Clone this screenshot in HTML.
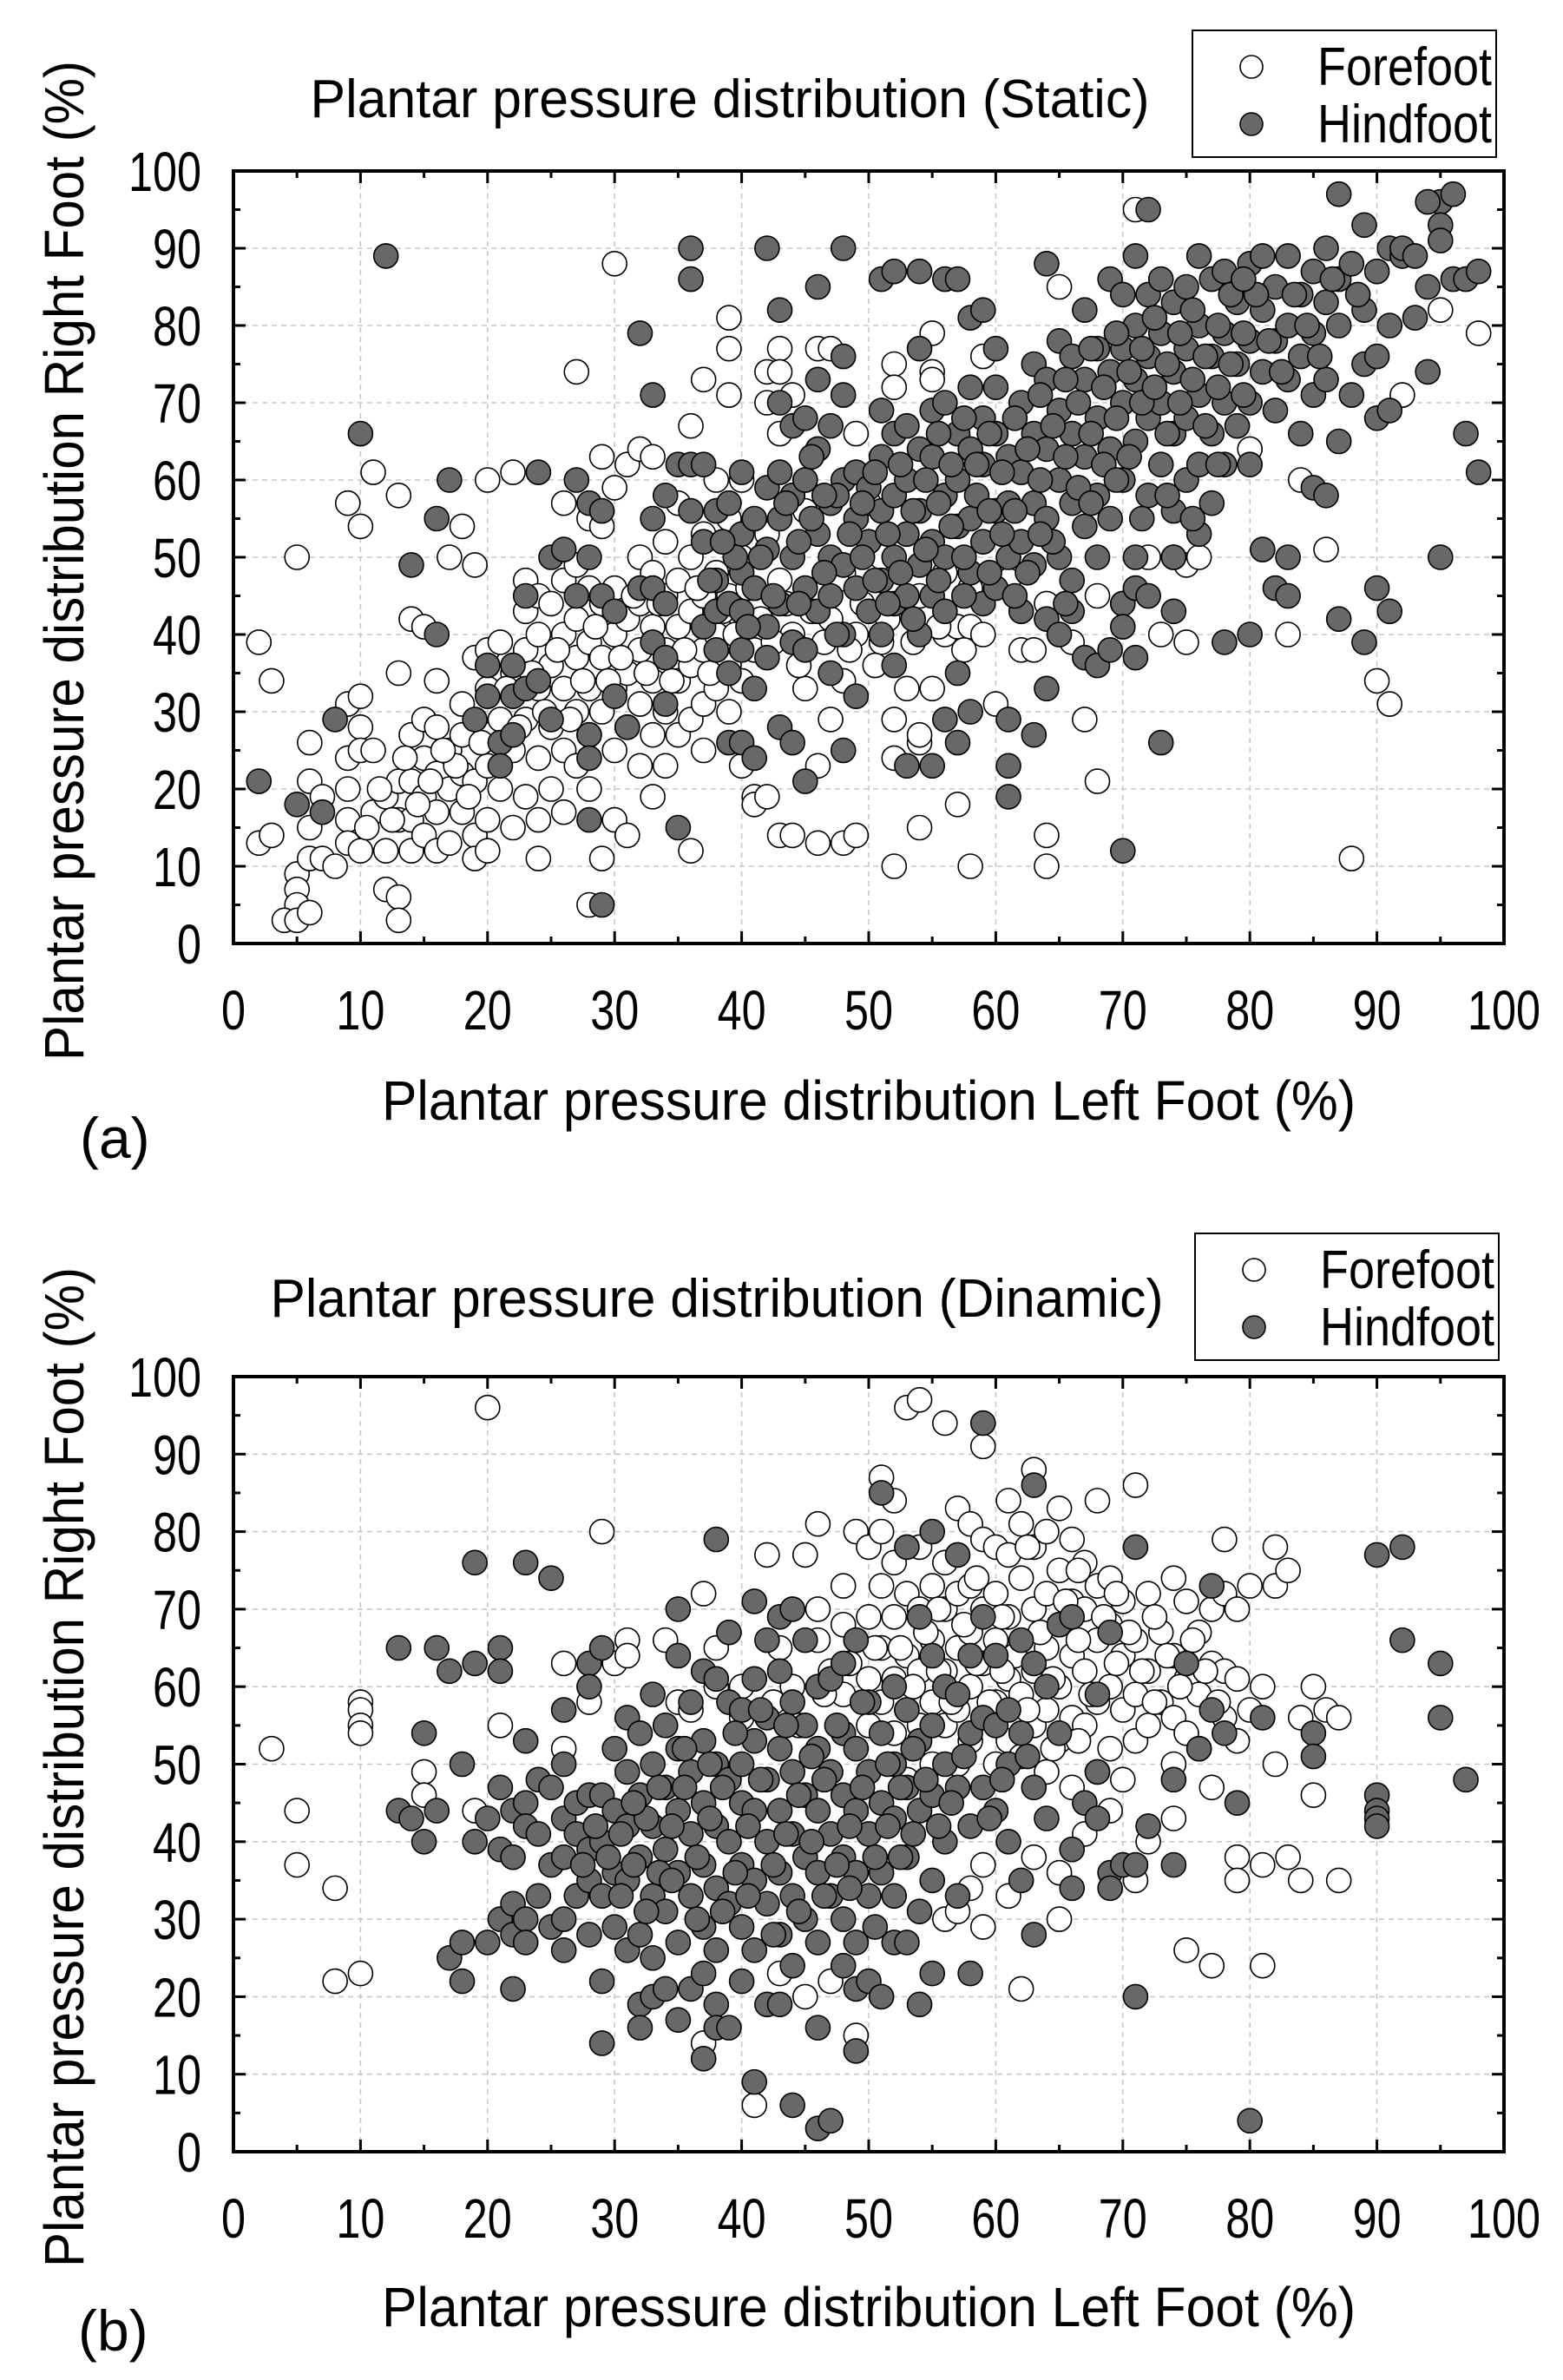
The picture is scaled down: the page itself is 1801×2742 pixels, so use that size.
<!DOCTYPE html>
<html><head><meta charset="utf-8"><title>Plantar pressure distribution</title>
<style>
html,body{margin:0;padding:0;background:#fff;}
svg{display:block;font-family:"Liberation Sans",Arial,sans-serif;}
</style></head>
<body>
<svg id="fig" width="1801" height="2742" viewBox="0 0 1801 2742" xmlns="http://www.w3.org/2000/svg">
<rect width="1801" height="2742" fill="#fff"/>
<g id="chartA"></g>
<g id="chartB"></g>
</svg>
<script>
const xTicks = [0,10,20,30,40,50,60,70,80,90,100];
const yTicks = [0,10,20,30,40,50,60,70,80,90,100];
const staticFore = [[2,39],[2,13],[3,34],[3,14],[5,50],[5,9],[5,7],[5,5],[4,3],[5,3],[6,4],[6,26],[6,21],[6,15],[6,11],[7,11],[7,19],[8,10],[9,31],[9,24],[9,20],[9,16],[9,13],[9,57],[10,54],[10,32],[10,28],[10,25],[10,12],[11,61],[11,25],[11,17],[12,7],[12,19],[12,12],[13,58],[13,35],[13,21],[13,16],[13,6],[13,3],[14,42],[14,27],[14,21],[14,16],[14,12],[15,41],[15,29],[15,24],[15,19],[15,14],[16,34],[16,28],[16,22],[16,17],[16,12],[17,50],[17,25],[17,20],[17,13],[18,54],[18,31],[18,27],[18,22],[18,17],[19,49],[19,37],[19,21],[19,14],[19,11],[20,60],[20,38],[20,33],[20,27],[20,23],[20,16],[20,12],[21,39],[21,29],[21,20],[22,61],[22,35],[22,25],[22,15],[23,47],[23,43],[23,38],[23,29],[23,19],[24,45],[24,40],[24,33],[24,24],[24,11],[24,16],[25,44],[25,36],[25,28],[25,20],[26,57],[26,47],[26,40],[26,33],[26,25],[26,17],[27,74],[27,49],[27,42],[27,37],[27,30],[27,23],[28,55],[28,46],[28,39],[28,33],[28,27],[28,20],[28,5],[29,63],[29,54],[29,44],[29,37],[29,30],[29,11],[30,88],[30,59],[30,46],[30,40],[30,33],[30,25],[30,16],[31,62],[31,42],[31,35],[31,28],[31,14],[32,64],[32,50],[32,44],[32,38],[32,31],[32,23],[33,63],[33,48],[33,41],[33,34],[33,27],[33,19],[34,52],[34,45],[34,38],[34,30],[34,23],[35,57],[35,47],[35,41],[35,34],[35,27],[36,67],[36,50],[36,43],[36,36],[36,29],[36,12],[37,73],[37,53],[37,45],[37,38],[37,31],[37,25],[38,60],[38,48],[38,40],[38,33],[39,81],[39,77],[39,71],[39,55],[39,45],[39,36],[39,30],[40,60],[40,50],[40,42],[40,34],[40,23],[41,19],[41,18],[41,38],[41,46],[42,70],[42,74],[42,19],[42,53],[43,77],[43,74],[43,66],[43,14],[43,47],[44,71],[44,14],[44,40],[44,58],[45,60],[45,33],[45,56],[46,77],[46,13],[46,23],[46,64],[47,77],[47,29],[47,42],[48,13],[48,48],[48,34],[49,66],[49,14],[49,40],[50,57],[50,45],[51,39],[51,50],[52,75],[52,72],[52,29],[52,24],[52,10],[53,33],[53,44],[54,26],[54,27],[54,15],[54,45],[55,79],[55,74],[55,73],[55,33],[56,40],[56,48],[57,18],[57,41],[58,10],[58,41],[58,46],[59,76],[59,40],[60,31],[60,47],[61,47],[62,38],[63,38],[64,14],[64,10],[64,44],[65,85],[65,40],[66,39],[67,29],[68,45],[68,21],[71,95],[72,45],[72,50],[73,40],[75,49],[75,39],[76,50],[80,64],[83,40],[84,60],[86,51],[88,11],[90,34],[91,31],[92,71],[95,82],[98,79],[74,50],[70,44],
[21.5,33],[22.5,28],[23.5,35],[24.5,30],[25.5,38],[26.5,29],[27.5,34],[28.5,41],[29.5,34],[30.5,37],[31.5,45],[32.5,35],[33.5,44],[34.5,34],[35.5,38],[36.5,46],[37.5,35],[38.5,43],[39.5,40],[40.5,46],[41.5,42],[42.5,39],[43.5,44],[44.5,36],[45.5,43],[46.5,39],[47.5,47],[48.5,38],[49.5,44],[50.5,36],[51.5,42],[53.5,39],[55.5,41],[57.5,38],[19.5,26],[18.5,19],[17.5,23],[16.5,25],[15.5,21],[14.5,18],[13.5,24],[12.5,16],[11.5,20],[10.5,15]];
const staticHind = [[2,21],[7,17],[8,29],[5,18],[12,89],[10,66],[14,49],[16,55],[16,40],[17,60],[19,29],[20,32],[20,36],[21,26],[21,23],[22,36],[22,32],[22,27],[23,33],[23,45],[24,34],[24,61],[25,29],[25,50],[26,51],[27,60],[27,45],[28,57],[28,50],[28,27],[28,24],[28,16],[29,56],[29,45],[29,5],[30,43],[30,32],[31,28],[32,46],[32,79],[33,71],[33,55],[33,46],[33,39],[34,58],[34,44],[34,37],[34,31],[35,62],[35,15],[36,90],[36,86],[36,62],[36,56],[37,62],[37,52],[37,41],[38,56],[38,47],[38,43],[38,38],[39,57],[39,44],[39,35],[39,26],[40,61],[40,53],[40,48],[40,43],[40,38],[40,26],[41,55],[41,46],[41,33],[41,24],[42,90],[42,59],[42,51],[42,41],[42,37],[43,82],[43,70],[43,61],[43,55],[43,44],[43,28],[44,67],[44,58],[44,50],[44,39],[44,26],[45,68],[45,60],[45,46],[45,38],[45,21],[46,85],[46,73],[46,64],[46,53],[46,43],[47,67],[47,57],[47,50],[47,45],[47,35],[48,90],[48,76],[48,71],[48,60],[48,49],[48,40],[48,25],[49,61],[49,55],[49,46],[49,32],[50,59],[50,52],[50,43],[51,86],[51,69],[51,63],[51,56],[51,47],[51,40],[52,87],[52,66],[52,58],[52,50],[52,44],[52,36],[53,67],[53,60],[53,53],[53,45],[53,23],[54,87],[54,77],[54,64],[54,56],[54,49],[54,40],[55,69],[55,63],[55,52],[55,45],[55,23],[56,86],[56,70],[56,58],[56,50],[56,43],[56,29],[57,86],[57,66],[57,60],[57,54],[57,35],[57,26],[58,81],[58,72],[58,64],[58,55],[58,48],[58,30],[59,82],[59,68],[59,62],[59,52],[59,44],[60,77],[60,72],[60,66],[60,56],[60,46],[61,63],[61,57],[61,50],[61,29],[61,23],[61,19],[62,70],[62,61],[62,52],[62,43],[63,75],[63,66],[63,57],[63,49],[63,27],[64,88],[64,73],[64,64],[64,55],[64,42],[64,33],[65,78],[65,69],[65,60],[65,50],[65,40],[66,76],[66,66],[66,57],[66,47],[66,43],[67,82],[67,73],[67,63],[67,54],[67,37],[68,77],[68,68],[68,58],[68,50],[68,36],[69,86],[69,74],[69,64],[69,55],[69,38],[70,84],[70,77],[70,70],[70,60],[70,44],[70,41],[70,12],[71,89],[71,80],[71,73],[71,65],[71,50],[71,46],[71,37],[72,95],[72,84],[72,76],[72,68],[72,58],[72,45],[73,86],[73,79],[73,70],[73,62],[73,26],[74,83],[74,74],[74,66],[74,56],[74,50],[74,43],[75,85],[75,77],[75,68],[75,60],[76,89],[76,80],[76,71],[76,62],[76,53],[77,86],[77,76],[77,66],[77,57],[78,87],[78,79],[78,70],[78,62],[78,39],[79,83],[79,75],[79,67],[80,88],[80,78],[80,70],[80,62],[80,40],[81,89],[81,82],[81,74],[81,51],[82,85],[82,78],[82,69],[82,46],[83,89],[83,80],[83,73],[83,50],[83,45],[84,84],[84,76],[84,66],[85,87],[85,79],[85,71],[85,59],[86,90],[86,83],[86,73],[86,58],[87,97],[87,86],[87,80],[87,65],[87,42],[88,88],[88,71],[89,93],[89,82],[89,75],[89,39],[90,87],[90,76],[90,68],[90,46],[91,90],[91,80],[91,69],[91,43],[92,89],[92,90],[93,81],[93,89],[94,85],[94,74],[95,96],[95,93],[95,91],[95,50],[96,97],[96,86],[97,66],[97,86],[98,87],[98,61],[94,96],
[44.5,52],[45.5,55],[46.5,48],[47.5,58],[48.5,53],[49.5,50],[50.5,61],[50.5,47],[51.5,53],[52.5,62],[52.5,48],[53.5,56],[54.5,60],[54.5,51],[55.5,66],[55.5,57],[56.5,54],[56.5,62],[57.5,50],[57.5,68],[58.5,58],[58.5,62],[59.5,48],[59.5,66],[60.5,53],[60.5,61],[61.5,68],[61.5,56],[62.5,64],[62.5,48],[63.5,71],[63.5,60],[64.5,67],[64.5,52],[65.5,73],[65.5,63],[66.5,70],[66.5,59],[67.5,66],[67.5,77],[68.5,72],[68.5,62],[69.5,79],[69.5,68],[70.5,74],[70.5,63],[71.5,77],[71.5,70],[72.5,81],[72.5,72],[73.5,75],[73.5,66],[74.5,79],[74.5,70],[75.5,82],[75.5,73],[76.5,76],[76.5,67],[77.5,80],[77.5,72],[78.5,84],[78.5,75],[79.5,79],[79.5,71],[41.5,50],[42.5,45],[43.5,57],[40.5,41],[39.5,50],[38.5,52],[37.5,47],[44.5,44],[45.5,63],[46.5,58],[47.5,40],[49.5,57],[51.5,44],[53.5,42],[55.5,47],[57.5,45],[59.5,56],[61.5,45],[63.5,53],[65.5,44],[67.5,57],[69.5,60],[71.5,55],[73.5,58],[75.5,55],[77.5,62],[81.5,78],[83.5,84],[84.5,80],[86.5,86],[88.5,84],[85.5,76],[82.5,74],[80.5,84],[79.5,86]];
const dynFore = [[3,52],[5,44],[5,37],[8,34],[8,22],[10,58],[10,57],[10,55],[10,54],[10,23],[15,49],[15,46],[19,44],[20,96],[21,55],[26,63],[26,52],[28,58],[29,80],[30,63],[31,66],[31,64],[34,66],[35,58],[36,57],[37,72],[37,14],[38,65],[38,60],[40,60],[40,56],[41,6],[42,77],[43,65],[43,23],[44,60],[45,77],[45,20],[46,81],[46,70],[46,66],[47,62],[47,22],[48,73],[48,68],[48,59],[49,80],[49,66],[49,15],[50,78],[50,69],[50,61],[50,55],[51,87],[51,80],[51,73],[51,65],[51,58],[52,84],[52,76],[52,69],[52,61],[52,54],[53,96],[53,72],[53,64],[53,57],[53,48],[54,97],[54,78],[54,70],[54,62],[54,55],[55,73],[55,66],[55,58],[55,50],[56,94],[56,76],[56,70],[56,62],[56,55],[56,30],[57,83],[57,72],[57,65],[57,57],[57,50],[57,31],[58,81],[58,73],[58,67],[58,60],[58,53],[58,34],[59,91],[59,79],[59,70],[59,63],[59,56],[59,37],[59,29],[60,78],[60,72],[60,66],[60,58],[60,50],[61,84],[61,77],[61,69],[61,61],[61,53],[61,33],[62,81],[62,74],[62,66],[62,59],[62,51],[62,21],[63,88],[63,78],[63,70],[63,62],[63,55],[63,38],[64,80],[64,72],[64,65],[64,57],[64,49],[65,83],[65,75],[65,68],[65,60],[65,53],[65,36],[65,30],[66,79],[66,71],[66,64],[66,56],[66,47],[67,76],[67,70],[67,62],[67,55],[67,41],[68,84],[68,73],[68,66],[68,58],[68,49],[69,74],[69,68],[69,60],[69,52],[69,44],[70,71],[70,64],[70,57],[70,48],[71,86],[71,66],[71,59],[71,53],[71,35],[72,72],[72,62],[72,55],[72,40],[73,67],[73,58],[74,74],[74,64],[74,56],[74,50],[74,43],[75,71],[75,61],[75,54],[75,26],[76,67],[76,59],[76,52],[77,70],[77,63],[77,47],[77,24],[78,79],[78,72],[78,62],[78,56],[79,70],[79,61],[79,53],[79,38],[79,35],[80,73],[80,57],[81,60],[81,37],[81,24],[82,78],[82,73],[82,50],[83,75],[83,38],[84,56],[84,35],[85,60],[85,46],[86,57],[87,56],[87,35],
[52.5,65],[53.5,60],[54.5,67],[55.5,62],[56.5,58],[57.5,68],[58.5,63],[59.5,58],[60.5,69],[61.5,64],[62.5,57],[63.5,67],[64.5,61],[65.5,71],[66.5,66],[67.5,59],[68.5,69],[69.5,63],[70.5,67],[71.5,62],[72.5,58],[73.5,64],[74.5,60],[75.5,66],[76.5,62],[77.5,58],[66.5,53],[64.5,52],[60.5,62],[58.5,74],[62.5,78],[66.5,75],[69.5,72],[72.5,69],[55.5,70],[50.5,65],[48.5,63],[46.5,59],[44.5,55],[42.5,58]];
const dynHind = [[13,65],[13,44],[14,43],[15,54],[15,40],[16,65],[16,44],[17,62],[17,25],[18,50],[18,27],[18,22],[19,76],[19,63],[19,40],[20,43],[20,27],[21,65],[21,62],[21,47],[21,39],[21,30],[22,44],[22,38],[22,32],[22,28],[22,21],[23,76],[23,53],[23,45],[23,42],[23,30],[23,27],[24,48],[24,41],[24,33],[25,74],[25,47],[25,37],[25,29],[26,57],[26,50],[26,43],[26,38],[26,30],[26,26],[27,45],[27,41],[27,33],[28,63],[28,60],[28,46],[28,39],[28,35],[28,28],[29,65],[29,46],[29,40],[29,33],[29,22],[29,14],[30,52],[30,44],[30,36],[30,29],[31,56],[31,49],[31,42],[31,35],[31,26],[32,54],[32,46],[32,38],[32,28],[32,19],[32,16],[33,59],[33,50],[33,42],[33,33],[33,25],[33,20],[34,55],[34,47],[34,39],[34,31],[34,21],[35,70],[35,64],[35,52],[35,44],[35,36],[35,27],[35,17],[36,58],[36,49],[36,41],[36,33],[36,21],[37,62],[37,53],[37,45],[37,37],[37,29],[37,23],[37,12],[38,79],[38,61],[38,50],[38,42],[38,34],[38,26],[38,19],[38,16],[39,67],[39,58],[39,48],[39,40],[39,32],[39,16],[40,57],[40,50],[40,45],[40,37],[40,29],[40,22],[41,71],[41,61],[41,53],[41,44],[41,35],[41,26],[41,9],[42,66],[42,56],[42,48],[42,40],[42,32],[42,19],[43,69],[43,62],[43,52],[43,44],[43,36],[43,28],[43,19],[44,70],[44,58],[44,49],[44,41],[44,33],[44,24],[44,6],[45,66],[45,55],[45,46],[45,38],[45,30],[46,60],[46,52],[46,44],[46,36],[46,27],[46,16],[46,3],[47,61],[47,49],[47,41],[47,33],[47,4],[48,63],[48,54],[48,46],[48,38],[48,30],[48,24],[49,66],[49,52],[49,44],[49,36],[49,27],[49,21],[49,13],[50,58],[50,49],[50,41],[50,33],[50,22],[51,85],[51,54],[51,45],[51,36],[51,20],[52,60],[52,50],[52,43],[52,33],[52,27],[53,78],[53,57],[53,47],[53,38],[53,27],[54,69],[54,53],[54,44],[54,31],[54,19],[55,80],[55,64],[55,55],[55,46],[55,35],[55,23],[56,60],[56,50],[56,40],[57,77],[57,59],[57,47],[57,33],[58,64],[58,54],[58,42],[58,23],[59,94],[59,69],[59,56],[59,47],[60,64],[60,55],[60,44],[61,57],[61,50],[61,40],[62,66],[62,54],[62,35],[63,86],[63,63],[63,47],[63,28],[64,60],[64,43],[65,68],[65,54],[66,69],[66,39],[66,34],[67,45],[68,59],[68,49],[68,43],[69,67],[69,36],[69,34],[70,37],[71,78],[71,37],[71,20],[72,42],[74,48],[74,37],[75,63],[76,52],[77,73],[77,57],[78,54],[79,45],[80,4],[81,56],[85,54],[85,51],[90,77],[90,46],[90,44],[90,43],[90,42],[92,78],[92,66],[95,63],[95,56],[97,48],
[29.5,38],[30.5,41],[31.5,37],[32.5,43],[33.5,36],[34.5,42],[35.5,47],[36.5,38],[37.5,43],[38.5,47],[39.5,36],[40.5,42],[41.5,48],[42.5,37],[43.5,41],[44.5,46],[45.5,40],[46.5,48],[47.5,37],[48.5,42],[49.5,47],[50.5,38],[51.5,42],[52.5,47],[53.5,41],[54.5,48],[55.5,42],[56.5,45],[57.5,51],[32.5,31],[34.5,35],[36.5,30],[38.5,31],[40.5,33],[42.5,28],[44.5,31],[46.5,33],[48.5,34],[50.5,29],[52.5,38],[33.5,47],[35.5,52],[37.5,50],[39.5,54],[41.5,57],[43.5,55],[45.5,51],[47.5,55],[49.5,58],[51.5,50],[53.5,52],[31.5,45],[30.5,33],[28.5,42],[27.5,37],[60.5,48],[62.5,51],[59.5,43]];

const NS = "http://www.w3.org/2000/svg";
function mk(parent, tag, attrs, text){
  const e = document.createElementNS(NS, tag);
  for (const k in attrs) e.setAttribute(k, attrs[k]);
  if (text !== undefined) e.textContent = text;
  parent.appendChild(e);
  return e;
}
const X0 = 269, X1 = 1733;
function drawChart(g, cfg){
  const sx = v => X0 + (X1 - X0) * v / 100;
  const sy = v => cfg.y0 + (cfg.y1 - cfg.y0) * v / 100;
  const grid = mk(g, 'g', {});
  
  
  for (let i = 1; i < xTicks.length - 1; i++) {
    mk(grid, 'line', {x1: sx(xTicks[i]), x2: sx(xTicks[i]), y1: sy(0), y2: sy(100), stroke: '#c8c8c8', 'stroke-width': 1.6, 'stroke-dasharray': '6 5'});
  }
  for (let i = 1; i < yTicks.length - 1; i++) {
    mk(grid, 'line', {x1: sx(0), x2: sx(100), y1: sy(yTicks[i]), y2: sy(yTicks[i]), stroke: '#c8c8c8', 'stroke-width': 1.6, 'stroke-dasharray': '6 5'});
  }
  const fg = mk(g, 'g', {});
  
  
  cfg.fore.forEach(p => {
    const c = mk(fg, 'circle', {cx: sx(p[0]), cy: sy(p[1]), r: 14, fill: '#fff', stroke: '#000', 'stroke-width': 1.6});
    
    
  });
  const hg = mk(g, 'g', {});
  
  
  cfg.hind.forEach(p => {
    const c = mk(hg, 'circle', {cx: sx(p[0]), cy: sy(p[1]), r: 14, fill: '#686868', stroke: '#000', 'stroke-width': 1.6});
    
    
  });
  const fr = mk(g, 'rect', {x: sx(0), y: sy(100), width: sx(100) - sx(0), height: sy(0) - sy(100), fill: 'none', stroke: '#000', 'stroke-width': 4});
  
  
  for (let v = 0; v <= 100; v += 5) {
    const L = v % 10 === 0 ? 14 : 8;
    mk(g, 'line', {x1: sx(v), x2: sx(v), y1: sy(0), y2: sy(0) - L, stroke: '#000', 'stroke-width': 3});
    mk(g, 'line', {x1: sx(v), x2: sx(v), y1: sy(100), y2: sy(100) + L, stroke: '#000', 'stroke-width': 3});
    mk(g, 'line', {x1: sx(0), x2: sx(0) + L, y1: sy(v), y2: sy(v), stroke: '#000', 'stroke-width': 3});
    mk(g, 'line', {x1: sx(100), x2: sx(100) - L, y1: sy(v), y2: sy(v), stroke: '#000', 'stroke-width': 3});
  }
  xTicks.forEach(v => {
    const s = String(v);
    const t = mk(g, 'text', {x: sx(v), y: cfg.xLabY, 'text-anchor': 'middle', 'font-size': 64, textLength: s.length * 28, lengthAdjust: 'spacingAndGlyphs'}, s);
    
    
  });
  yTicks.forEach(v => {
    const s = String(v);
    const t = mk(g, 'text', {x: 232, y: sy(v) + 23, 'text-anchor': 'end', 'font-size': 64, textLength: s.length * 28, lengthAdjust: 'spacingAndGlyphs'}, s);
    
    
  });
  const yt = mk(g, 'text', {x: 0, y: 0, transform: 'translate(96,' + cfg.yTitleC + ') rotate(-90)', 'text-anchor': 'middle', 'font-size': 64, textLength: 1152, lengthAdjust: 'spacingAndGlyphs'}, 'Plantar pressure distribution Right Foot (%)');
  
  
  const xt = mk(g, 'text', {x: 1001, y: cfg.xTitleY, 'text-anchor': 'middle', 'font-size': 64, textLength: 1122, lengthAdjust: 'spacingAndGlyphs'}, 'Plantar pressure distribution Left Foot (%)');
  
  
  const tt = mk(g, 'text', {x: cfg.titleX, y: cfg.titleY, 'text-anchor': 'middle', 'font-size': 62, textLength: cfg.titleW, lengthAdjust: 'spacingAndGlyphs'}, cfg.title);
  
  
  const pl = mk(g, 'text', {x: cfg.panelX, y: cfg.panelY, 'font-size': 66}, cfg.panel);
  
  
  const lg = mk(g, 'g', {});
  
  
  mk(lg, 'rect', {x: cfg.legX, y: cfg.legY, width: 350, height: 146, fill: '#fff', stroke: '#000', 'stroke-width': 2});
  const e1 = mk(lg, 'g', {});
  
  
  mk(e1, 'circle', {cx: cfg.legX + 68, cy: cfg.legY + 42, r: 13, fill: '#fff', stroke: '#000', 'stroke-width': 1.6});
  mk(e1, 'text', {x: cfg.legX + 144, y: cfg.legY + 63, 'font-size': 62, textLength: 201, lengthAdjust: 'spacingAndGlyphs'}, 'Forefoot');
  const e2 = mk(lg, 'g', {});
  
  
  mk(e2, 'circle', {cx: cfg.legX + 68, cy: cfg.legY + 108, r: 13, fill: '#686868', stroke: '#000', 'stroke-width': 1.6});
  mk(e2, 'text', {x: cfg.legX + 144, y: cfg.legY + 129, 'font-size': 62, textLength: 201, lengthAdjust: 'spacingAndGlyphs'}, 'Hindfoot');
}
drawChart(document.getElementById('chartA'), {
  y0: 1087, y1: 197, fore: staticFore, hind: staticHind, xLabY: 1186, yTitleC: 646, xTitleY: 1290,
  title: 'Plantar pressure distribution (Static)', titleX: 841, titleY: 135, titleW: 967,
  panel: '(a)', panelX: 92, panelY: 1334, legX: 1374, legY: 35
});
drawChart(document.getElementById('chartB'), {
  y0: 2479, y1: 1586, fore: dynFore, hind: dynHind, xLabY: 2578, yTitleC: 2036, xTitleY: 2680,
  title: 'Plantar pressure distribution (Dinamic)', titleX: 826, titleY: 1517, titleW: 1029,
  panel: '(b)', panelX: 90, panelY: 2708, legX: 1377, legY: 1421
});
</script>
</body></html>
